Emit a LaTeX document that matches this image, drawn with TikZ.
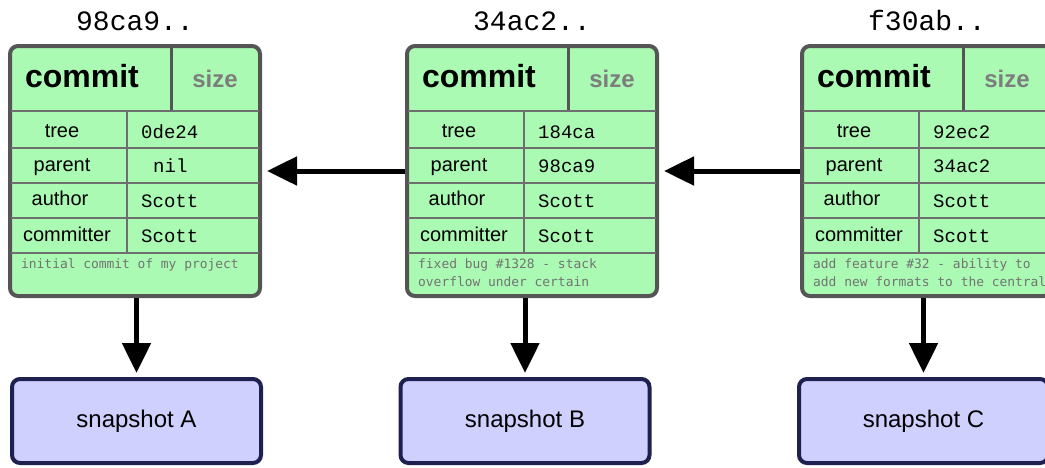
\documentclass[tikz,border=0pt]{standalone}
\usepackage{fontspec}
\setmainfont{Liberation Sans}
\newfontfamily\monofont{Liberation Mono}
\newfontfamily\msgfont{DejaVu Sans Mono}
\usetikzlibrary{arrows.meta}
\definecolor{commitfill}{RGB}{170,250,180}
\definecolor{boxborder}{RGB}{85,85,85}
\definecolor{rowgrey}{RGB}{110,110,110}
\definecolor{sizegrey}{RGB}{125,125,125}
\definecolor{msggrey}{RGB}{115,115,115}
\definecolor{snapfill}{RGB}{208,208,255}
\definecolor{snapborder}{RGB}{30,32,80}
\tikzset{
  commitbox/.style={draw=boxborder, line width=4pt, fill=commitfill, rounded corners=8pt,
    minimum width=250pt, minimum height=250pt, inner sep=0pt},
  snapbox/.style={draw=snapborder, line width=4pt, fill=snapfill, rounded corners=8pt,
    minimum width=249pt, minimum height=84pt, inner sep=0pt,
    font=\fontsize{24}{28}\selectfont},
  hashtext/.style={anchor=base, inner sep=0pt, font=\monofont\fontsize{28}{32}\selectfont},
  headtext/.style={anchor=base, inner sep=0pt, font=\bfseries\fontsize{32}{36}\selectfont},
  sizetext/.style={anchor=base, inner sep=0pt, text=sizegrey, font=\bfseries\fontsize{24}{28}\selectfont},
  fieldtext/.style={anchor=base, inner sep=0pt, font=\fontsize{20}{24}\selectfont},
  valtext/.style={anchor=base west, inner sep=0pt, font=\monofont\fontsize{19}{22}\selectfont},
  msgtext/.style={anchor=base west, inner sep=0pt, align=left, text=msggrey,
    font=\msgfont\fontsize{12.9}{18}\selectfont},
  rowline/.style={draw=rowgrey, line width=1.6pt},
  hdiv/.style={draw=boxborder, line width=3pt},
  arr/.style={line width=5pt, -{Triangle[length=30pt,width=28pt]}},
}
% #1 name, #2 left x, #3 hash, #4 tree, #5 parent, #6 parent x, #7 message, #8 message last baseline
\newcommand\mkcommit[8]{%
  \begin{scope}[shift={(#2,0)}]
    \node[commitbox] (#1) at (127,171) {};
    \node[hashtext] (#1hash) at (127,30) {#3};
    \draw[hdiv] (163,46) -- (163,111);
    \draw[rowline] (3,111) -- (251,111);
    \draw[rowline] (3,148) -- (251,148);
    \draw[rowline] (3,183) -- (251,183);
    \draw[rowline] (3,218) -- (251,218);
    \draw[rowline] (3,253) -- (251,253);
    \draw[rowline] (119,111) -- (119,253);
    \node[headtext] (#1commit) at (74,87) {commit};
    \node[sizetext] (#1size) at (207,87) {size};
    \node[fieldtext] (#1ltree) at (54,137) {tree};
    \node[fieldtext] (#1lparent) at (54,171) {parent};
    \node[fieldtext] (#1lauthor) at (52,205) {author};
    \node[fieldtext] (#1lcommitter) at (59,241) {committer};
    \node[valtext] (#1vtree) at (133,138) {#4};
    \node[valtext] (#1vparent) at (#6,172) {#5};
    \node[valtext] (#1vauthor) at (133,207) {Scott};
    \node[valtext] (#1vcommitter) at (133,242) {Scott};
    \node[msgtext] (#1msg) at (13,#8) {#7};
  \end{scope}}
\begin{document}
\begin{tikzpicture}[x=1pt,y=-1pt]
  \useasboundingbox (0,0) rectangle (1045,467);
  \clip (0,0) rectangle (1045,467);
  \mkcommit{c1}{8}{98ca9..}{0de24}{nil}{145}{initial commit of my project}{268}
  \mkcommit{c2}{405}{34ac2..}{184ca}{98ca9}{133}{fixed bug \#1328 - stack\\overflow under certain}{286}
  \mkcommit{c3}{800}{f30ab..}{92ec2}{34ac2}{133}{add feature \#32 - ability to\\add new formats to the central}{286}
  \node[snapbox] (s1) at (136.5,421) {snapshot A};
  \node[snapbox] (s2) at (525,421) {snapshot B};
  \node[snapbox] (s3) at (923.5,421) {snapshot C};
  \draw[arr, shorten >=5pt] (c2.west) -- (c1.east);
  \draw[arr, shorten >=5pt] (c3.west) -- (c2.east);
  \draw[arr, shorten >=4pt] (s1.north |- c1.south) -- (s1.north);
  \draw[arr, shorten >=4pt] (s2.north |- c2.south) -- (s2.north);
  \draw[arr, shorten >=4pt] (s3.north |- c3.south) -- (s3.north);
\end{tikzpicture}
\end{document}
